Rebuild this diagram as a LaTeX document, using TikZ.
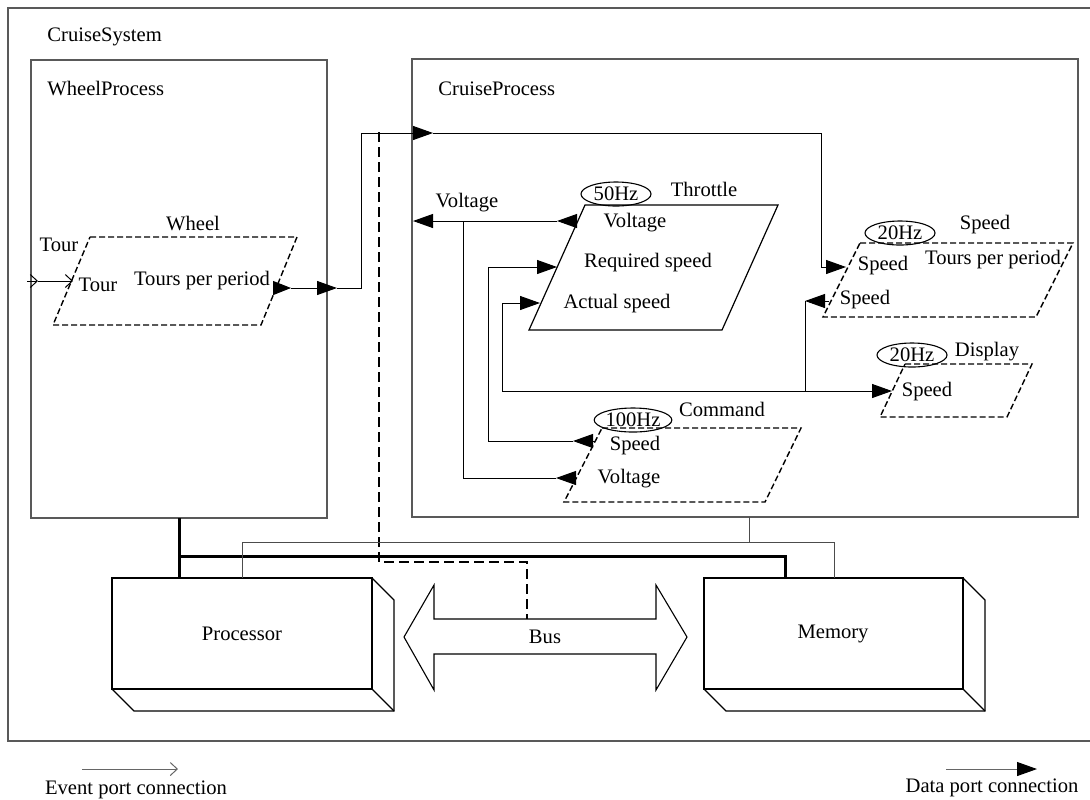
\documentclass[tikz,border=0pt]{standalone}
\usepackage{fontspec}
\setmainfont{Liberation Serif}
\usetikzlibrary{arrows.meta,shapes.geometric}
\begin{document}
\begin{tikzpicture}[x=0.5pt,y=-0.5pt,
  box/.style={draw=black!65, line width=0.6pt},
  conn/.style={draw=black, line width=0.5pt},
  data/.style={conn, -{Triangle[length=10pt,width=7pt]}},
  datas/.style={conn, -{Triangle[length=9pt,width=7pt]}},
  evt/.style={conn, -{Straight Barb[length=3.5pt,width=6.5pt]}},
  thr/.style={draw=black, line width=0.6pt},
  thd/.style={draw=black, line width=0.7pt, dash pattern=on 3pt off 1.5pt},
  lbl/.style={inner sep=0pt, font=\fontsize{10.3}{12}\selectfont},
  freq/.style={ellipse, draw=black, line width=0.55pt, inner sep=0pt, minimum width=35pt, minimum height=12pt, font=\fontsize{10.3}{12}\selectfont},
  busline/.style={draw=black, line width=1.5pt},
  busdash/.style={draw=black, line width=0.9pt, dash pattern=on 5pt off 2.5pt},
  hw/.style={draw=black, line width=0.55pt},
  thin/.style={draw=black!70, line width=0.5pt},
]
\useasboundingbox (0,0) rectangle (1090,799);

% CruiseSystem frame
\draw[box] (1092,8) -- (8,8) -- (8,741) -- (1092,741);
\node[lbl, anchor=west] (tCS) at (47,37) {CruiseSystem};

% WheelProcess
\draw[box] (31,60) rectangle (327,518);
\node[lbl, anchor=west] (tWP) at (47,89) {WheelProcess};

% CruiseProcess
\draw[box] (412,59) rectangle (1078,517);
\node[lbl, anchor=west] (tCP) at (438,89) {CruiseProcess};

% ---------- Wheel thread ----------
\draw[thd] (90,237) -- (297,237) -- (261,325) -- (53,325) -- cycle;
\node[lbl] (tWheel) at (193,223) {Wheel};
\node[lbl] (tTourOut) at (59,245) {Tour};
\node[lbl] (tTourIn) at (98,285) {Tour};
\node[lbl] (tTpp1) at (202,281) {Tours per period};

\coordinate (extEv) at (27,281);
\coordinate (wpEv) at (38,281);
\coordinate (wEvIn) at (73,281);
\draw[evt] (extEv) -- (wpEv);
\draw[evt] (wpEv) -- (wEvIn);

\coordinate (wOut) at (273,288);
\coordinate (wOutT) at (291,288);
\coordinate (wpOut) at (337,288);
\coordinate (j1) at (361,288);
\coordinate (j2) at (361,133);
\coordinate (cpIn) at (433,133);
\coordinate (j3) at (821,133);
\coordinate (j4) at (821,267);
\coordinate (sIn) at (846,267);
\draw[datas] (wOut) -- (wOutT);
\draw[data] (wOutT) -- (wpOut);
\draw[conn] (wpOut) -- (j1) -- (j2);
\draw[data] (j2) -- (cpIn);
\draw[data] (cpIn) -- (j3) -- (j4) -- (sIn);

% ---------- Throttle thread ----------
\draw[thr] (585,205) -- (778,205) -- (722,330) -- (529,330) -- cycle;
\node[freq] (f50) at (616,194) {50Hz};
\node[lbl] (tThr) at (704,189) {Throttle};
\node[lbl] (tThV) at (635,223) {Voltage};
\node[lbl] (tThR) at (648,263) {Required speed};
\node[lbl] (tThA) at (617,304) {Actual speed};
\node[lbl] (tVout) at (467,203) {Voltage};

\coordinate (thV) at (578,221);
\coordinate (thVt) at (557,221);
\coordinate (cpV) at (413,221);
\coordinate (jv) at (463,221);
\draw[data] (thV) -- (thVt);
\draw[data] (thVt) -- (cpV);

% ---------- Command thread ----------
\draw[thd] (602,428) -- (801,428) -- (765,502) -- (564,502) -- cycle;
\node[freq] (f100) at (633,420) {100Hz};
\node[lbl] (tCmd) at (722,409) {Command};
\node[lbl] (tCmS) at (635,446) {Speed};
\node[lbl] (tCmV) at (629,479) {Voltage};

\coordinate (cmS) at (595,441);
\coordinate (cmSt) at (573,441);
\coordinate (k1) at (488,441);
\coordinate (k2) at (488,267);
\coordinate (thR) at (557,267);
\draw[data] (cmS) -- (cmSt);
\draw[data] (cmSt) -- (k1) -- (k2) -- (thR);

\coordinate (cmV) at (577,478);
\coordinate (cmVt) at (556,478);
\coordinate (k3) at (463,478);
\draw[data] (cmV) -- (cmVt);
\draw[conn] (cmVt) -- (k3) -- (jv);

% ---------- Speed thread ----------
\draw[thd] (860,243) -- (1073,243) -- (1036,317) -- (823,317) -- cycle;
\node[freq] (f20a) at (900,233) {20Hz};
\node[lbl] (tSp) at (985,225) {Speed};
\node[lbl] (tSpIn) at (883,266) {Speed};
\node[lbl] (tTpp2) at (993,260) {Tours per period};
\node[lbl] (tSpOut) at (865,300) {Speed};

% ---------- Display thread ----------
\draw[thd] (905,364) -- (1032,364) -- (1007,417) -- (880,417) -- cycle;
\node[freq] (f20b) at (912,355) {20Hz};
\node[lbl] (tDisp) at (987,352) {Display};
\node[lbl] (tDispS) at (927,392) {Speed};

\coordinate (spOut) at (829,301);
\coordinate (spOutT) at (805,301);
\coordinate (m1) at (805,391);
\coordinate (m2) at (502,391);
\coordinate (m3) at (502,303);
\coordinate (thA) at (540,303);
\coordinate (dIn) at (892,391);
\draw[data] (spOut) -- (spOutT);
\draw[conn] (spOutT) -- (m1);
\draw[data] (m1) -- (m2) -- (m3) -- (thA);
\draw[data] (m1) -- (dIn);

% ---------- Hardware ----------
\draw[hw] (112,578) rectangle (372,689);
\draw[hw] (372,578) -- (394,600) -- (394,711) -- (134,711) -- (112,689);
\draw[hw] (372,689) -- (394,711);
\node[lbl] (tProc) at (242,634) {Processor};

\draw[hw] (704,578) rectangle (963,689);
\draw[hw] (963,578) -- (985,600) -- (985,711) -- (726,711) -- (704,689);
\draw[hw] (963,689) -- (985,711);
\node[lbl] (tMem) at (833,634) {Memory};

\draw[hw] (404,637) -- (434,585) -- (434,619) -- (656,619) -- (656,585) -- (687,637)
  -- (656,690) -- (656,654) -- (434,654) -- (434,690) -- cycle;
\node[lbl] (tBus) at (545,637) {Bus};

% bus access (dashed)
\coordinate (b1) at (379,132);
\coordinate (b2) at (379,562);
\coordinate (b3) at (527,562);
\coordinate (b4) at (527,619);
\draw[busdash] (b1) -- (b2) -- (b3) -- (b4);

% processor binding (thick)
\coordinate (p1) at (179,518);
\coordinate (p2) at (179,578);
\coordinate (p3) at (179,556);
\coordinate (p4) at (785,556);
\coordinate (p5) at (785,578);
\draw[busline] (p1) -- (p2);
\draw[busline] (p3) -- (p4) -- (p5);

% memory binding (thin)
\coordinate (q1) at (242,578);
\coordinate (q2) at (242,542);
\coordinate (q3) at (834,542);
\coordinate (q4) at (834,578);
\coordinate (q5) at (749,517);
\coordinate (q6) at (749,542);
\draw[thin] (q1) -- (q2) -- (q3) -- (q4);
\draw[thin] (q5) -- (q6);

% ---------- Legend ----------
\coordinate (le1) at (82,769);
\coordinate (le2) at (178,769);
\draw[draw=black!60, line width=0.5pt, -{Straight Barb[length=3.5pt,width=6.5pt]}] (le1) -- (le2);
\node[lbl] (tEv) at (136,790) {Event port connection};
\coordinate (ld1) at (946,769);
\coordinate (ld2) at (1037,769);
\draw[draw=black!60, line width=0.5pt, -{Triangle[length=10pt,width=7pt,color=black]}] (ld1) -- (ld2);
\node[lbl] (tDa) at (992,788) {Data port connection};
\end{tikzpicture}
\end{document}
